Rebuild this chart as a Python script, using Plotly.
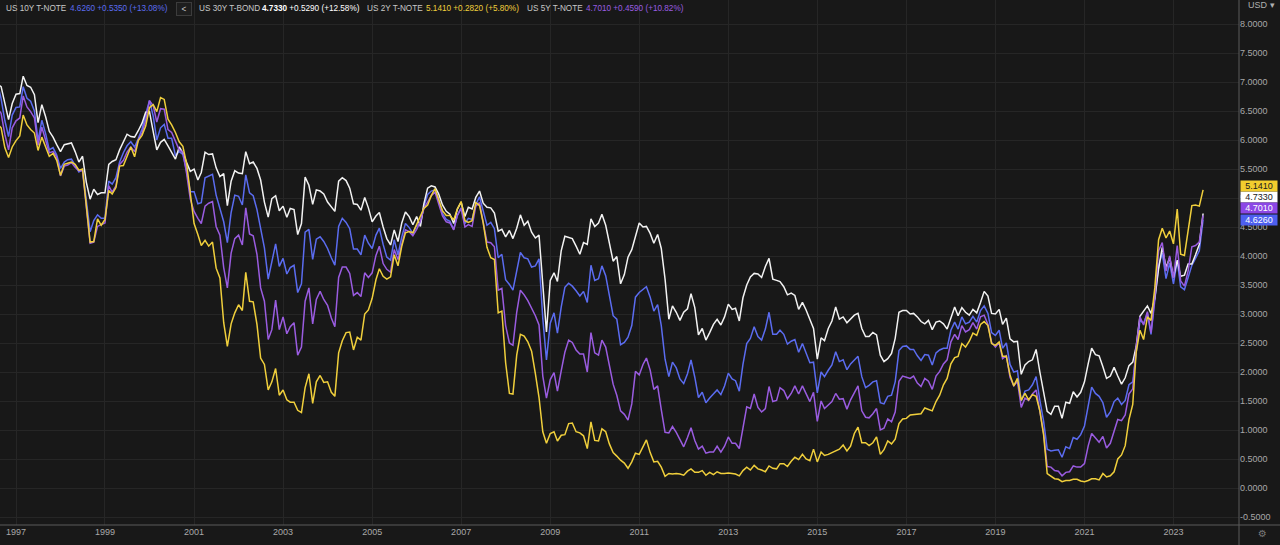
import pandas as pd
import plotly.graph_objects as go

# month-end yields, Aug 1996 .. Sep 2023 (last bar still open)
months = pd.date_range("1996-08-01", periods=326, freq="MS")

us2y = [
    6.28, 6.21, 5.87, 5.70, 5.88,
    5.99, 6.07, 6.43, 6.26, 6.18, 6.12, 5.82, 6.05, 5.88, 5.72, 5.77, 5.65,
    5.39, 5.58, 5.60, 5.62, 5.58, 5.48, 5.50, 4.81, 4.24, 4.25, 4.64, 4.53,
    4.63, 5.13, 5.07, 5.18, 5.55, 5.56, 5.72, 5.88, 5.71, 5.99, 6.08, 6.24,
    6.56, 6.61, 6.49, 6.73, 6.70, 6.36, 6.26, 6.13, 5.97, 5.89, 5.59, 5.10,
    4.56, 4.37, 4.18, 4.27, 4.17, 4.24, 3.79, 3.62, 2.85, 2.44, 2.83, 3.02,
    3.16, 3.06, 3.72, 3.22, 3.21, 2.82, 2.24, 2.13, 1.69, 1.83, 2.06, 1.60,
    1.69, 1.52, 1.48, 1.48, 1.34, 1.30, 1.73, 1.97, 1.46, 1.83, 1.94, 1.82,
    1.83, 1.65, 1.58, 2.33, 2.54, 2.68, 2.69, 2.38, 2.60, 2.55, 3.00, 3.07,
    3.27, 3.59, 3.78, 3.65, 3.60, 3.64, 4.02, 3.83, 4.17, 4.40, 4.42, 4.40,
    4.54, 4.69, 4.82, 4.88, 5.04, 5.16, 4.97, 4.78, 4.70, 4.70, 4.62, 4.81,
    4.94, 4.61, 4.58, 4.61, 4.92, 4.87, 4.57, 4.15, 3.97, 3.94, 3.02, 3.05,
    2.16, 1.63, 1.62, 2.29, 2.65, 2.62, 2.52, 2.36, 1.97, 1.56, 0.97, 0.77,
    0.94, 0.97, 0.81, 0.91, 0.92, 1.11, 1.12, 0.97, 0.95, 0.90, 0.68, 1.14,
    0.82, 0.81, 1.02, 0.97, 0.76, 0.61, 0.55, 0.48, 0.43, 0.34, 0.45, 0.60,
    0.58, 0.70, 0.83, 0.61, 0.45, 0.46, 0.36, 0.20, 0.25, 0.24, 0.25, 0.24,
    0.22, 0.29, 0.33, 0.27, 0.27, 0.30, 0.22, 0.27, 0.23, 0.28, 0.25, 0.25,
    0.26, 0.25, 0.24, 0.21, 0.30, 0.36, 0.31, 0.39, 0.33, 0.31, 0.28, 0.38,
    0.34, 0.33, 0.42, 0.42, 0.37, 0.46, 0.53, 0.49, 0.58, 0.50, 0.47, 0.67,
    0.45, 0.62, 0.56, 0.58, 0.61, 0.64, 0.67, 0.74, 0.64, 0.72, 0.94, 1.05,
    0.78, 0.78, 0.73, 0.78, 0.88, 0.58, 0.66, 0.81, 0.76, 0.84, 1.11, 1.19,
    1.20, 1.26, 1.27, 1.28, 1.28, 1.38, 1.35, 1.33, 1.49, 1.60, 1.78, 1.89,
    2.14, 2.25, 2.27, 2.49, 2.43, 2.53, 2.67, 2.63, 2.82, 2.87, 2.80, 2.49,
    2.46, 2.52, 2.27, 2.27, 1.95, 1.76, 1.89, 1.51, 1.63, 1.52, 1.61, 1.58,
    1.33, 0.91, 0.25, 0.20, 0.16, 0.15, 0.11, 0.13, 0.13, 0.15, 0.15, 0.12,
    0.11, 0.13, 0.16, 0.16, 0.14, 0.25, 0.19, 0.21, 0.28, 0.50, 0.57, 0.73,
    1.18, 1.44, 2.34, 2.72, 2.56, 2.95, 2.89, 3.45, 4.28, 4.48, 4.31, 4.43,
    4.21, 4.81, 4.03, 4.01, 4.40, 4.87, 4.88, 4.86, 5.141,
]

us5y = [
    6.55, 6.46, 6.10, 5.83, 6.21,
    6.33, 6.38, 6.76, 6.57, 6.49, 6.38, 5.91, 6.22, 6.00, 5.78, 5.80, 5.71,
    5.38, 5.55, 5.57, 5.61, 5.53, 5.47, 5.47, 4.85, 4.22, 4.24, 4.51, 4.54,
    4.57, 5.21, 5.10, 5.21, 5.58, 5.65, 5.79, 5.88, 5.80, 6.00, 6.12, 6.34,
    6.68, 6.59, 6.31, 6.54, 6.53, 6.18, 6.13, 5.98, 5.83, 5.79, 5.42, 4.98,
    4.77, 4.65, 4.56, 4.86, 4.91, 4.94, 4.51, 4.36, 3.80, 3.45, 4.05, 4.30,
    4.36, 4.19, 4.83, 4.38, 4.35, 4.03, 3.45, 3.22, 2.56, 2.73, 3.24, 2.73,
    2.95, 2.66, 2.78, 2.85, 2.29, 2.43, 3.22, 3.45, 2.83, 3.25, 3.39, 3.25,
    3.15, 2.93, 2.78, 3.63, 3.81, 3.81, 3.70, 3.32, 3.37, 3.30, 3.71, 3.63,
    3.71, 4.01, 4.17, 3.87, 3.77, 3.72, 4.11, 3.94, 4.18, 4.45, 4.42, 4.35,
    4.46, 4.60, 4.82, 4.92, 5.04, 5.10, 4.90, 4.69, 4.59, 4.57, 4.45, 4.70,
    4.82, 4.50, 4.54, 4.51, 4.86, 4.92, 4.58, 4.24, 4.23, 4.16, 3.41, 3.44,
    2.80, 2.50, 2.46, 3.03, 3.41, 3.33, 3.23, 3.10, 2.97, 2.81, 1.93, 1.55,
    1.87, 1.99, 1.67, 2.02, 2.34, 2.55, 2.51, 2.38, 2.31, 2.31, 2.00, 2.68,
    2.33, 2.29, 2.55, 2.43, 2.09, 1.79, 1.60, 1.33, 1.27, 1.17, 1.45, 2.01,
    1.95, 2.13, 2.24, 2.03, 1.70, 1.76, 1.35, 0.96, 0.95, 1.06, 0.96, 0.83,
    0.71, 0.87, 1.04, 0.82, 0.67, 0.72, 0.60, 0.62, 0.62, 0.72, 0.62, 0.72,
    0.88, 0.77, 0.77, 0.68, 1.02, 1.40, 1.37, 1.62, 1.39, 1.31, 1.37, 1.75,
    1.49, 1.51, 1.73, 1.68, 1.54, 1.63, 1.76, 1.62, 1.76, 1.62, 1.49, 1.65,
    1.15, 1.50, 1.37, 1.43, 1.49, 1.63, 1.53, 1.54, 1.36, 1.52, 1.65, 1.76,
    1.33, 1.22, 1.21, 1.28, 1.37, 1.00, 1.03, 1.19, 1.14, 1.31, 1.84, 1.93,
    1.91, 1.89, 1.93, 1.81, 1.75, 1.89, 1.84, 1.70, 1.93, 2.01, 2.14, 2.21,
    2.52, 2.65, 2.56, 2.80, 2.69, 2.73, 2.85, 2.74, 2.95, 2.98, 2.82, 2.51,
    2.43, 2.51, 2.23, 2.28, 1.91, 1.76, 1.84, 1.39, 1.55, 1.51, 1.62, 1.69,
    1.32, 0.94, 0.37, 0.36, 0.30, 0.29, 0.21, 0.27, 0.28, 0.38, 0.36, 0.36,
    0.42, 0.73, 0.94, 0.86, 0.79, 0.89, 0.69, 0.77, 0.98, 1.18, 1.16, 1.26,
    1.62, 1.71, 2.42, 2.95, 2.81, 3.04, 2.68, 3.30, 4.09, 4.23, 3.74, 4.00,
    3.62, 4.18, 3.57, 3.48, 3.74, 4.16, 4.18, 4.24, 4.701,
]

us10y = [
    6.99, 6.71, 6.34, 6.06, 6.43,
    6.56, 6.57, 6.92, 6.72, 6.67, 6.50, 5.99, 6.34, 6.11, 5.83, 5.87, 5.74,
    5.51, 5.62, 5.66, 5.67, 5.55, 5.45, 5.49, 5.00, 4.42, 4.61, 4.71, 4.65,
    4.65, 5.29, 5.24, 5.35, 5.62, 5.78, 5.90, 5.97, 5.88, 6.02, 6.19, 6.44,
    6.68, 6.41, 6.00, 6.21, 6.27, 6.03, 6.03, 5.73, 5.80, 5.75, 5.47, 5.11,
    5.11, 4.90, 4.92, 5.35, 5.38, 5.41, 5.05, 4.83, 4.59, 4.23, 4.75, 5.05,
    5.03, 4.88, 5.40, 5.09, 5.04, 4.80, 4.46, 4.14, 3.60, 3.89, 4.21, 3.82,
    3.96, 3.69, 3.80, 3.84, 3.37, 3.52, 4.41, 4.46, 3.94, 4.29, 4.33, 4.25,
    4.13, 3.97, 3.84, 4.51, 4.65, 4.58, 4.47, 4.12, 4.12, 4.02, 4.36, 4.22,
    4.13, 4.36, 4.48, 4.20, 3.98, 3.93, 4.28, 4.02, 4.33, 4.56, 4.49, 4.39,
    4.53, 4.55, 4.85, 5.06, 5.12, 5.14, 4.98, 4.73, 4.63, 4.60, 4.46, 4.70,
    4.83, 4.56, 4.65, 4.63, 4.89, 5.02, 4.76, 4.53, 4.58, 4.47, 3.97, 4.03,
    3.59, 3.51, 3.41, 3.73, 4.06, 3.97, 3.95, 3.81, 3.83, 3.95, 2.92, 2.21,
    2.84, 3.02, 2.67, 3.12, 3.46, 3.53, 3.48, 3.40, 3.31, 3.39, 3.20, 3.84,
    3.58, 3.61, 3.83, 3.66, 3.29, 2.97, 2.91, 2.47, 2.51, 2.60, 2.80, 3.29,
    3.37, 3.42, 3.47, 3.29, 3.05, 3.16, 2.80, 2.22, 1.92, 2.17, 2.07, 1.88,
    1.80, 1.97, 2.21, 1.91, 1.56, 1.65, 1.47, 1.55, 1.63, 1.69, 1.61, 1.76,
    1.98, 1.88, 1.85, 1.67, 2.13, 2.49, 2.58, 2.78, 2.61, 2.55, 2.74, 3.03,
    2.65, 2.65, 2.72, 2.65, 2.48, 2.53, 2.56, 2.34, 2.49, 2.34, 2.16, 2.17,
    1.64, 2.00, 1.92, 2.03, 2.12, 2.35, 2.18, 2.21, 2.04, 2.14, 2.21, 2.27,
    1.92, 1.73, 1.77, 1.83, 1.85, 1.47, 1.45, 1.58, 1.60, 1.83, 2.37, 2.44,
    2.45, 2.39, 2.39, 2.28, 2.20, 2.30, 2.29, 2.12, 2.33, 2.38, 2.41, 2.41,
    2.72, 2.86, 2.74, 2.95, 2.83, 2.86, 2.96, 2.86, 3.06, 3.14, 3.01, 2.68,
    2.63, 2.72, 2.41, 2.50, 2.13, 2.00, 2.02, 1.50, 1.67, 1.69, 1.78, 1.92,
    1.51, 1.15, 0.67, 0.64, 0.65, 0.66, 0.53, 0.71, 0.68, 0.87, 0.84, 0.92,
    1.07, 1.41, 1.74, 1.63, 1.58, 1.47, 1.22, 1.31, 1.49, 1.55, 1.44, 1.51,
    1.78, 1.83, 2.34, 2.89, 2.84, 3.01, 2.65, 3.19, 3.83, 4.05, 3.61, 3.88,
    3.52, 3.92, 3.47, 3.42, 3.64, 3.84, 3.96, 4.09, 4.626,
]

us30y = [
    6.96, 6.92, 6.64, 6.35, 6.63,
    6.79, 6.80, 7.10, 6.94, 6.91, 6.78, 6.30, 6.61, 6.40, 6.15, 6.05, 5.92,
    5.80, 5.92, 5.93, 5.95, 5.80, 5.62, 5.72, 5.27, 4.98, 5.15, 5.06, 5.09,
    5.09, 5.58, 5.63, 5.66, 5.83, 5.96, 6.10, 6.06, 6.05, 6.16, 6.29, 6.48,
    6.49, 6.14, 5.83, 5.96, 6.01, 5.90, 5.78, 5.67, 5.88, 5.78, 5.61, 5.46,
    5.50, 5.31, 5.44, 5.79, 5.75, 5.76, 5.52, 5.37, 5.42, 4.87, 5.29, 5.47,
    5.43, 5.42, 5.80, 5.59, 5.62, 5.51, 5.31, 4.93, 4.67, 4.99, 5.04, 4.78,
    4.86, 4.67, 4.82, 4.80, 4.37, 4.56, 5.36, 5.22, 4.89, 5.14, 5.12, 5.07,
    4.93, 4.84, 4.77, 5.29, 5.35, 5.30, 5.17, 4.90, 4.89, 4.79, 5.01, 4.83,
    4.59, 4.69, 4.75, 4.50, 4.30, 4.19, 4.45, 4.25, 4.57, 4.76, 4.68, 4.54,
    4.68, 4.51, 4.90, 5.17, 5.21, 5.19, 5.07, 4.88, 4.77, 4.72, 4.56, 4.81,
    4.93, 4.68, 4.84, 4.81, 5.01, 5.12, 4.91, 4.84, 4.83, 4.74, 4.43, 4.46,
    4.33, 4.44, 4.30, 4.48, 4.71, 4.53, 4.60, 4.41, 4.31, 4.36, 3.44, 2.69,
    3.58, 3.71, 3.56, 4.09, 4.34, 4.32, 4.30, 4.17, 4.03, 4.23, 4.20, 4.64,
    4.51, 4.57, 4.72, 4.53, 4.22, 3.91, 3.99, 3.52, 3.68, 3.98, 4.11, 4.33,
    4.57, 4.50, 4.51, 4.39, 4.22, 4.37, 4.13, 3.60, 2.91, 3.14, 3.03, 2.89,
    3.03, 3.09, 3.35, 3.11, 2.64, 2.75, 2.55, 2.68, 2.82, 2.91, 2.81, 2.95,
    3.17, 3.08, 3.10, 2.88, 3.28, 3.50, 3.64, 3.70, 3.69, 3.63, 3.82, 3.96,
    3.60, 3.58, 3.56, 3.47, 3.33, 3.36, 3.32, 3.08, 3.20, 3.07, 2.89, 2.75,
    2.22, 2.59, 2.54, 2.75, 2.88, 3.12, 2.91, 2.95, 2.85, 2.92, 2.98, 3.01,
    2.75, 2.61, 2.61, 2.68, 2.64, 2.29, 2.18, 2.23, 2.32, 2.58, 3.03, 3.06,
    3.06, 3.00, 3.01, 2.95, 2.87, 2.83, 2.89, 2.73, 2.86, 2.88, 2.83, 2.74,
    2.94, 3.12, 2.97, 3.11, 3.03, 2.98, 3.08, 3.02, 3.20, 3.39, 3.31, 3.01,
    3.00, 3.08, 2.82, 2.93, 2.57, 2.52, 2.53, 1.96, 2.12, 2.18, 2.21, 2.39,
    2.00, 1.68, 1.32, 1.27, 1.41, 1.41, 1.20, 1.48, 1.46, 1.66, 1.57, 1.65,
    1.83, 2.15, 2.41, 2.30, 2.28, 2.09, 1.89, 1.93, 2.08, 1.93, 1.79, 1.90,
    2.11, 2.17, 2.44, 2.96, 3.05, 3.14, 3.01, 3.27, 3.78, 4.15, 3.80, 3.97,
    3.63, 3.93, 3.65, 3.67, 3.86, 3.86, 4.02, 4.20, 4.733,
]

names = ["US 10Y T-NOTE", "US 30Y T-BOND", "US 2Y T-NOTE", "US 5Y T-NOTE"]
changes = ["+0.5350 (+13.08%)", "+0.5290 (+12.58%)", "+0.2820 (+5.80%)", "+0.4590 (+10.82%)"]
series = [us10y, us30y, us2y, us5y]
colors = ["#5b6cf0", "#f2f2f2", "#f0cf3c", "#9a5ce0"]
tag_text = ["#ffffff", "#202020", "#202020", "#ffffff"]
tag_bg = ["#4d5ff0", "#ffffff", "#f2cd2e", "#8c47e6"]

year_ticks = list(range(1997, 2024, 2))
price_ticks = [8.0 - 0.5 * i for i in range(18)]

W, H = 1280, 545
ml, mr, mt, mb = 0, 41, 0, 20
pw, ph = W - ml - mr, H - mt - mb

# horizontal scale of the screenshot: Jan 1997 at x=16, 3.71 px per month
jan97 = pd.Timestamp("1997-01-01")
month_days = 30.4375
x0 = jan97 - pd.Timedelta(days=16 / 3.71 * month_days)
x1 = jan97 + pd.Timedelta(days=(pw - 16) / 3.71 * month_days)
y_range = [-0.638, 8.414]

bg = "#181818"
grid = "#262626"

fig = go.Figure()
for i in [0, 1, 3, 2]:
    fig.add_trace(go.Scatter(x=months, y=series[i], mode="lines", name=names[i],
                             line=dict(color=colors[i], width=1.5), hoverinfo="skip"))

fig.update_layout(
    width=W, height=H,
    margin=dict(l=ml, r=mr, t=mt, b=mb),
    paper_bgcolor=bg, plot_bgcolor=bg,
    showlegend=False,
    font=dict(family="Liberation Sans, Arial, sans-serif", size=9, color="#a8a8a8"),
    xaxis=dict(
        range=[x0, x1],
        tickvals=[pd.Timestamp(f"{y}-01-01") for y in year_ticks],
        ticktext=[str(y) for y in year_ticks],
        showgrid=True, gridcolor=grid, gridwidth=1,
        zeroline=False, showline=False, ticks="",
        tickfont=dict(size=9, color="#a8a8a8"),
        fixedrange=True,
    ),
    yaxis=dict(
        range=y_range, side="right",
        tickvals=price_ticks,
        ticktext=[f"{v:.4f}" for v in price_ticks],
        showgrid=True, gridcolor=grid, gridwidth=1,
        zeroline=False, showline=False, ticks="",
        tickfont=dict(size=9, color="#a8a8a8"),
        fixedrange=True,
    ),
)

# axis border lines like the trading terminal frame
fig.add_shape(type="line", xref="paper", yref="paper", x0=1.0, x1=1.0, y0=-mb / ph, y1=1.0,
              line=dict(color="#5a5a5a", width=1))
fig.add_shape(type="line", xref="paper", yref="paper", x0=0, x1=W / pw, y0=0, y1=0,
              line=dict(color="#5a5a5a", width=1))


def px(x):
    return x / pw


def py(y):
    return 1 - y / ph


# header with the four instruments
head_y = py(9)
hsize = 8.2
header = [
    (5, names[0], "#c8c8c8"), (69, "4.6260 " + changes[0], colors[0]),
    (198, names[1], "#c8c8c8"), (261, "<b>4.7330</b> " + changes[1], "#ffffff"),
    (366, names[2], "#c8c8c8"), (425, "5.1410 " + changes[2], colors[2]),
    (526, names[3], "#c8c8c8"), (585, "4.7010 " + changes[3], colors[3]),
]
for x, txt, col in header:
    fig.add_annotation(x=px(x), y=head_y, xref="paper", yref="paper", text=txt,
                       showarrow=False, xanchor="left", yanchor="middle", borderpad=0,
                       font=dict(size=hsize, color=col))
fig.add_annotation(x=px(184), y=head_y, xref="paper", yref="paper", text="&lt;",
                   showarrow=False, xanchor="center", yanchor="middle",
                   width=12, height=10, bordercolor="#3c3c3c", borderwidth=1,
                   bgcolor="#1e1e1e", font=dict(size=hsize, color="#c8c8c8"))

# last value tags on the price scale, stacked so they do not overlap
shifts = [0, 16, 4, 7]
for i in range(4):
    fig.add_annotation(x=1.0, y=series[i][-1], xref="paper", yref="y",
                       text=f"{series[i][-1]:.4f}", showarrow=False,
                       xanchor="left", yanchor="middle", xshift=1, yshift=shifts[i],
                       width=34, height=8, borderpad=1, bgcolor=tag_bg[i],
                       font=dict(size=9, color=tag_text[i]))

fig.add_annotation(x=px(1246), y=py(5), xref="paper", yref="paper", text="USD ▾",
                   showarrow=False, xanchor="left", yanchor="middle",
                   font=dict(size=9, color="#b0b0b0"))
fig.add_annotation(x=px(1262), y=py(533), xref="paper", yref="paper", text="⚙",
                   showarrow=False, xanchor="center", yanchor="middle",
                   font=dict(family="DejaVu Sans", size=10, color="#777777"))

fig.write_html("out.html", config={"displayModeBar": False},
               post_script="document.body.style.margin='0';")
